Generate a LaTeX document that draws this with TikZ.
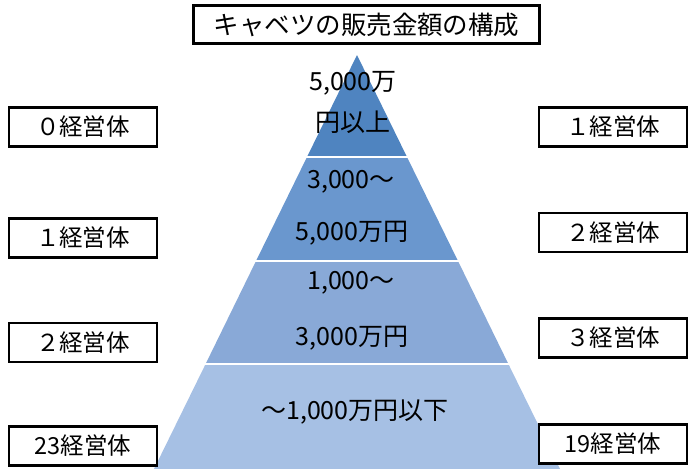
\documentclass[tikz,border=0pt]{standalone}
\usepackage{fontspec}
\setmainfont{Noto Sans CJK JP}
\definecolor{bandA}{HTML}{4F84C0}
\definecolor{bandB}{HTML}{6A97CE}
\definecolor{bandC}{HTML}{89A9D7}
\definecolor{bandD}{HTML}{A6C0E4}
\begin{document}
\begin{tikzpicture}[x=1pt,y=-1pt,
  band/.style={draw=white,line width=2.5pt,line join=miter},
  lbl/.style={font=\fontsize{25}{28}\selectfont,inner sep=0pt},
  countbox/.style={draw=black,line width=2.3pt,fill=white,minimum width=148pt,minimum height=39pt,inner sep=0pt,font=\fontsize{23.5}{26}\selectfont},
  titlebox/.style={draw=black,line width=2.3pt,fill=white,minimum width=346pt,minimum height=38pt,inner sep=0pt,font=\fontsize{25.5}{28}\selectfont}]
\useasboundingbox (0,0) rectangle (689,469);
% pyramid bands
\fill[bandD] (205.6,364) -- (508.4,364) -- (560,469) -- (154,469) -- cycle;
\fill[bandC] (256,261) -- (458,261) -- (508.4,364) -- (205.6,364) -- cycle;
\fill[bandB] (307,157) -- (407,157) -- (458,261) -- (256,261) -- cycle;
\fill[bandA] (357,55) -- (407,157) -- (307,157) -- cycle;
\draw[white,line width=2.5pt] (300,157) -- (414,157);
\draw[white,line width=2.5pt] (250,261) -- (464,261);
\draw[white,line width=2.5pt] (198,364) -- (516,364);
% pyramid texts
\node[lbl] (t1a) at (353,83) {5,000万};
\node[lbl] (t1b) at (353,122) {円以上};
\node[lbl] (t2a) at (351,182) {3,000～};
\node[lbl] (t2b) at (352,233) {5,000万円};
\node[lbl] (t3a) at (351,283) {1,000～};
\node[lbl] (t3b) at (352,338) {3,000万円};
\node[lbl] (t4) at (355,412) {～1,000万円以下};
% title
\node[titlebox] (title) at (366.5,24.5) {キャベツの販売金額の構成};
% left boxes
\node[countbox] (l1) at (83,127) {０経営体};
\node[countbox] (l2) at (83,238) {１経営体};
\node[countbox] (l3) at (83,342.5) {２経営体};
\node[countbox] (l4) at (83,446) {23経営体};
% right boxes
\node[countbox] (r1) at (613,127) {１経営体};
\node[countbox] (r2) at (613,232.5) {２経営体};
\node[countbox] (r3) at (613,338) {３経営体};
\node[countbox] (r4) at (613,444) {19経営体};
\end{tikzpicture}
\end{document}
